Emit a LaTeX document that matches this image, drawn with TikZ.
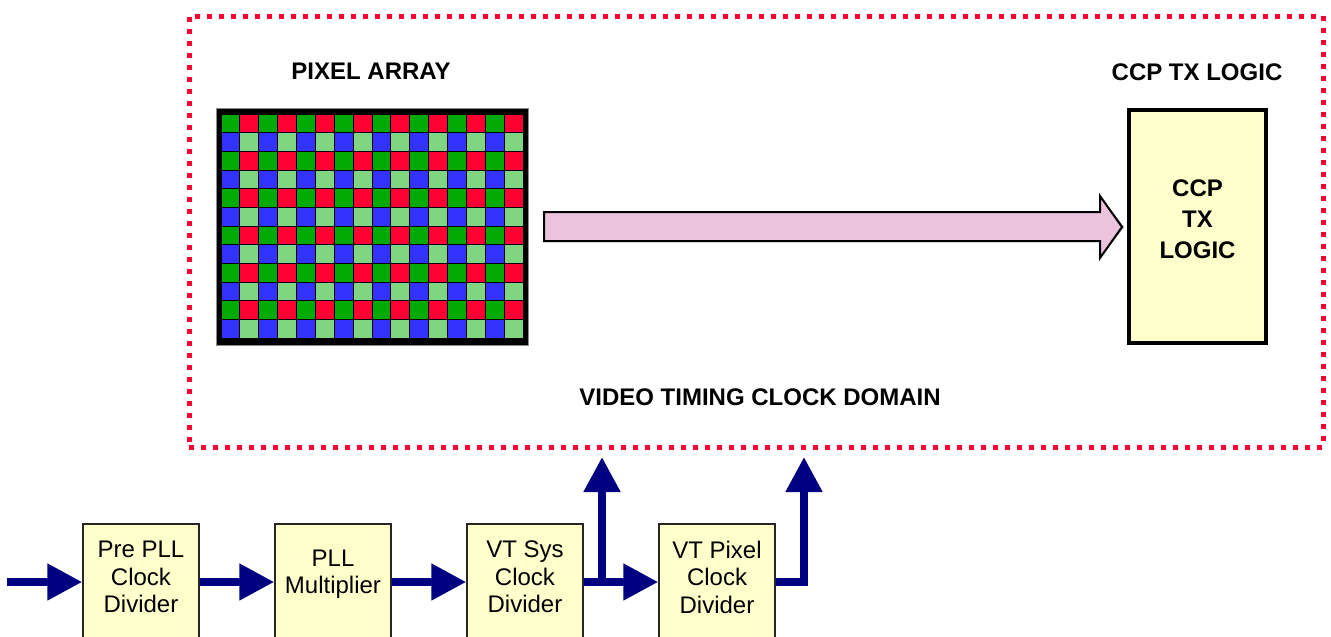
\documentclass[tikz,border=0pt]{standalone}
\usepackage{fontspec}
\setmainfont{Liberation Sans}
\usetikzlibrary{arrows.meta}

\definecolor{dotred}{HTML}{FF0033}
\definecolor{navyline}{HTML}{000080}
\definecolor{boxyellow}{HTML}{FFFFCC}
\definecolor{flowpink}{HTML}{EBC3DD}
\definecolor{pxgreen}{HTML}{00AA00}
\definecolor{pxred}{HTML}{FF0033}
\definecolor{pxblue}{HTML}{3333FF}
\definecolor{pxlight}{HTML}{80D680}

\tikzset{
  domainbox/.style={draw=dotred, line width=5pt, dash pattern=on 5pt off 7pt,
    minimum width=1134pt, minimum height=431pt, inner sep=0pt},
  title/.style={font=\fontsize{24}{28}\selectfont\bfseries, inner sep=0pt},
  clkbox/.style={draw=black!85, line width=1.5pt, fill=boxyellow,
    minimum width=116pt, minimum height=136pt, inner sep=0pt},
  clktxt/.style={font=\fontsize{24}{27.5}\selectfont, align=center, inner sep=0pt},
  clkarrow/.style={draw=navyline, line width=8pt,
    -{Triangle[length=35pt,width=35pt]}},
  clkline/.style={draw=navyline, line width=8pt, line join=miter},
}

\begin{document}
\begin{tikzpicture}[x=1pt, y=-1pt]
  \useasboundingbox (0,0) rectangle (1331,637);
  \clip (0,0) rectangle (1331,637);

  % clock domain outline
  \node[domainbox] (domain) at (756,231.5) {};
  \node[title] (pxtitle) at (371,71) {PIXEL ARRAY};
  \node[title] (ccptitle) at (1197,72) {CCP TX LOGIC};
  \node[title] (domtitle) at (760,397) {VIDEO TIMING CLOCK DOMAIN};

  % pixel array: black frame with a Bayer colour grid
  \node[draw=black!45, line width=1pt, fill=black, minimum width=312pt,
        minimum height=237pt, inner sep=0pt] (parray) at (372,226.5) {};
  \pgfmathsetmacro{\pw}{302/16}
  \pgfmathsetmacro{\ph}{224/12}
  \foreach \i in {0,...,15}{
    \foreach \j in {0,...,11}{
      \pgfmathtruncatemacro{\ci}{mod(\i,2)}
      \pgfmathtruncatemacro{\cj}{mod(\j,2)}
      \ifnum\cj=0
        \ifnum\ci=0 \def\cc{pxgreen}\else\def\cc{pxred}\fi
      \else
        \ifnum\ci=0 \def\cc{pxblue}\else\def\cc{pxlight}\fi
      \fi
      \fill[\cc] (221+\i*\pw+0.5, 114+\j*\ph+0.5)
        rectangle (221+\i*\pw+\pw-0.5, 114+\j*\ph+\ph-0.5);
    }
  }

  % CCP transmitter block
  \node[draw=black, line width=3.5pt, fill=boxyellow, minimum width=137pt,
        minimum height=233pt, inner sep=0pt] (ccp) at (1197.5,226.5) {};
  \node[font=\fontsize{24}{31}\selectfont\bfseries, align=center, inner sep=0pt]
        (ccpt) at (1197.5,219) {CCP\\TX\\LOGIC};

  % data flow arrow from the array to the transmitter
  \fill[black!40] (543,211) -- (1099,211) -- (1099,194) -- (1124,227)
    -- (1099,260) -- (1099,242) -- (543,242) -- cycle;
  \draw[fill=flowpink, line width=2pt, line join=miter]
    (544,212) -- (1100,212) -- (1100,196) -- (1122,227)
    -- (1100,258) -- (1100,241) -- (544,241) -- cycle;

  % clock chain
  \node[clkbox] (prepll) at (141,592) {};
  \node[clkbox] (pll)    at (333,592) {};
  \node[clkbox] (vtsys)  at (525,592) {};
  \node[clkbox] (vtpix)  at (717,592) {};
  \node[clktxt] (prepllt) at (141,577) {Pre PLL\\Clock\\Divider};
  \node[clktxt] (pllt)    at (333,574) {PLL\\Multiplier};
  \node[clktxt] (vtsyst)  at (525,577) {VT Sys\\Clock\\Divider};
  \node[clktxt] (vtpixt)  at (717,577) {VT Pixel\\Clock\\Divider};

  \coordinate (clkin) at (7,582);
  \coordinate (sysbranch) at (602,582);
  \coordinate (systop) at (602,457);
  \coordinate (pixcorner) at (804,582);
  \coordinate (pixtop) at (804,457);

  \draw[clkarrow] (clkin) -- (clkin -| prepll.west);
  \draw[clkarrow] (clkin -| prepll.east) -- (clkin -| pll.west);
  \draw[clkarrow] (clkin -| pll.east) -- (clkin -| vtsys.west);
  \draw[clkarrow] (clkin -| vtsys.east) -- (clkin -| vtpix.west);
  \draw[clkarrow] (sysbranch) -- (systop);
  \draw[clkline] (clkin -| vtpix.east) -- ([xshift=4pt]pixcorner);
  \draw[clkarrow] ([yshift=4pt]pixcorner) -- (pixtop);
\end{tikzpicture}
\end{document}
